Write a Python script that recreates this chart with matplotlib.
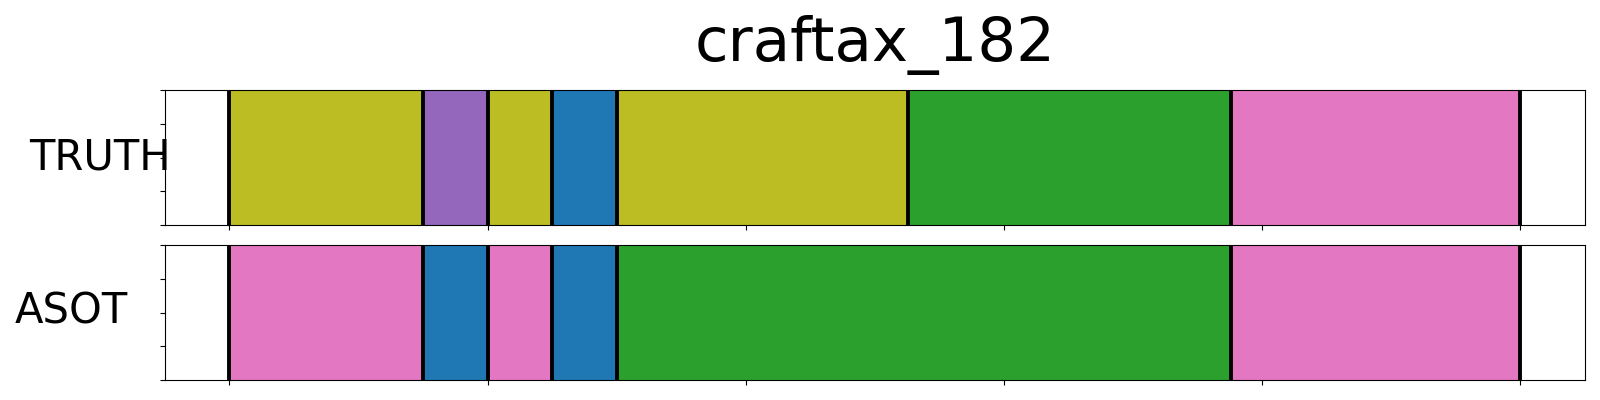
import matplotlib
matplotlib.use("Agg")
import matplotlib.pyplot as plt

# segment boundaries (frame index) and the action class of each segment
truth_bounds = [0, 75, 100, 125, 150, 263, 388, 500]
truth_labels = [8, 4, 8, 0, 8, 2, 6]
asot_bounds = [0, 75, 100, 125, 150, 388, 500]
asot_labels = [6, 0, 6, 0, 2, 6]
row_names = ["TRUTH", "ASOT"]
title = "craftax_182"
x_ticks = [0, 100, 200, 300, 400, 500]

cmap = plt.get_cmap("tab10")

fig = plt.figure(figsize=(16, 4), dpi=100)
ax_top = fig.add_axes([0.103, 0.4375, 0.8875, 0.3375])
ax_bot = fig.add_axes([0.103, 0.05, 0.8875, 0.3375])


def draw_row(ax, bounds, labels):
    for i, lab in enumerate(labels):
        ax.axvspan(bounds[i], bounds[i + 1], color=cmap(lab), lw=0)
    for b in bounds:
        ax.axvline(b, color="black", lw=2.8)
    span = bounds[-1] - bounds[0]
    ax.set_xlim(bounds[0] - 0.05 * span, bounds[-1] + 0.05 * span)
    ax.set_ylim(0, 1)
    ax.set_xticks(x_ticks)
    ax.set_yticks([0, 0.25, 0.5, 0.75, 1.0])
    ax.set_xticklabels([])
    ax.set_yticklabels([])


draw_row(ax_top, truth_bounds, truth_labels)
draw_row(ax_bot, asot_bounds, asot_labels)

ax_top.set_title(title, fontsize=44, pad=21)

# row names placed in pixels like the original
fig.text(29 / 1600, 1 - 169 / 400, row_names[0], fontsize=30, ha="left", va="baseline")
fig.text(15 / 1600, 1 - 323 / 400, row_names[1], fontsize=30, ha="left", va="baseline")

fig.savefig("out.png", dpi=100)
